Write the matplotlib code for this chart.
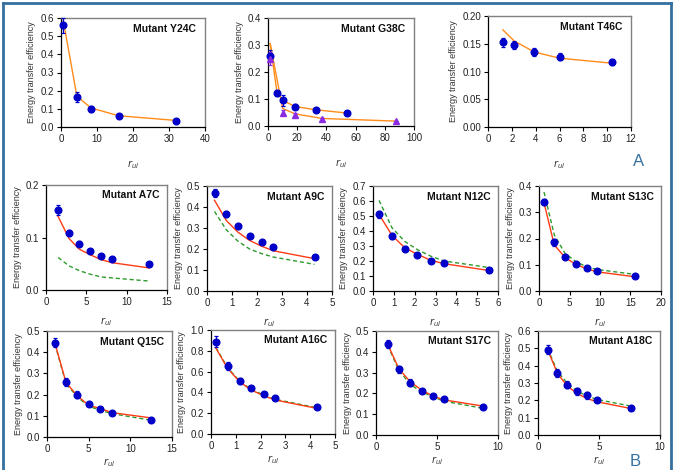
import matplotlib
matplotlib.use('Agg')
import numpy as np
import matplotlib.pyplot as plt
from matplotlib.ticker import FormatStrFormatter
from matplotlib.lines import Line2D

plt.rcParams['font.family'] = ['Liberation Sans', 'DejaVu Sans']

# ---- panel A data ----
y24c_x = [0.6, 4.4, 8.3, 16, 32]
y24c_y = [0.56, 0.165, 0.098, 0.06, 0.035]
y24c_err = [0.04, 0.025, 0.015, 0.004, 0.003]
y24c_fit = [0.59, 0.17, 0.105, 0.062, 0.036]

g38c_x = [1.5, 6, 10, 18.5, 33, 54]
g38c_y = [0.26, 0.123, 0.095, 0.072, 0.058, 0.048]
g38c_err = [0.02, 0.012, 0.02, 0.01, 0.004, 0.004]
g38c_fit = [0.305, 0.13, 0.095, 0.072, 0.06, 0.048]
g38c_x2 = [1.5, 10, 18.5, 37, 88]
g38c_y2 = [0.25, 0.05, 0.04, 0.027, 0.018]
g38c_err2 = [0.025, 0.01, 0.008, 0.003, 0.002]
g38c_fit2 = [0.305, 0.065, 0.045, 0.028, 0.018]

t46c_x = [1.25, 2.2, 3.9, 6.0, 10.4]
t46c_y = [0.153, 0.148, 0.135, 0.127, 0.117]
t46c_err = [0.008, 0.007, 0.007, 0.006, 0.005]
t46c_fit = [0.175, 0.155, 0.135, 0.124, 0.115]

# ---- panel B data ----
a7c_x = [1.5, 2.86, 4.1, 5.5, 6.8, 8.2, 12.8]
a7c_y = [0.152, 0.109, 0.088, 0.074, 0.065, 0.060, 0.049]
a7c_err = [0.01, 0.006, 0.005, 0.002, 0.002, 0.002, 0.002]
a7c_fit = [0.140, 0.098, 0.078, 0.067, 0.058, 0.052, 0.042]
a7c_alt = [0.062, 0.046, 0.037, 0.030, 0.025, 0.023, 0.017]

a9c_x = [0.3, 0.77, 1.23, 1.7, 2.19, 2.64, 4.3]
a9c_y = [0.467, 0.368, 0.308, 0.263, 0.235, 0.211, 0.163]
a9c_err = [0.02, 0.015, 0.012, 0.005, 0.005, 0.005, 0.004]
a9c_fit = [0.432, 0.336, 0.281, 0.241, 0.213, 0.192, 0.154]
a9c_alt = [0.379, 0.292, 0.238, 0.200, 0.178, 0.162, 0.127]

n12c_x = [0.29, 0.91, 1.52, 2.13, 2.79, 3.42, 5.59]
n12c_y = [0.511, 0.367, 0.282, 0.242, 0.200, 0.184, 0.142]
n12c_err = [0.025, 0.018, 0.015, 0.008, 0.006, 0.006, 0.005]
n12c_fit = [0.511, 0.371, 0.289, 0.244, 0.204, 0.182, 0.136]
n12c_alt = [0.604, 0.422, 0.331, 0.276, 0.231, 0.200, 0.156]

s13c_x = [0.82, 2.5, 4.25, 6.05, 7.8, 9.5, 15.8]
s13c_y = [0.338, 0.185, 0.130, 0.104, 0.086, 0.076, 0.056]
s13c_err = [0.012, 0.012, 0.004, 0.004, 0.003, 0.003, 0.002]
s13c_fit = [0.336, 0.176, 0.128, 0.101, 0.085, 0.073, 0.054]
s13c_alt = [0.377, 0.214, 0.144, 0.112, 0.092, 0.082, 0.063]

q15c_x = [0.96, 2.28, 3.64, 5.0, 6.4, 7.8, 12.5]
q15c_y = [0.445, 0.260, 0.200, 0.155, 0.134, 0.115, 0.082]
q15c_err = [0.02, 0.02, 0.018, 0.006, 0.005, 0.004, 0.003]
q15c_fit = [0.442, 0.257, 0.194, 0.150, 0.134, 0.115, 0.090]
q15c_alt = [0.437, 0.252, 0.189, 0.145, 0.126, 0.110, 0.079]

a16c_x = [0.2, 0.67, 1.15, 1.62, 2.12, 2.59, 4.26]
a16c_y = [0.888, 0.654, 0.513, 0.439, 0.385, 0.343, 0.256]
a16c_err = [0.05, 0.035, 0.03, 0.01, 0.01, 0.008, 0.008]
a16c_fit = [0.824, 0.631, 0.503, 0.423, 0.369, 0.327, 0.247]
a16c_alt = [0.830, 0.637, 0.509, 0.429, 0.375, 0.333, 0.253]

s17c_x = [0.96, 1.87, 2.8, 3.74, 4.64, 5.55, 8.79]
s17c_y = [0.436, 0.315, 0.252, 0.211, 0.187, 0.173, 0.136]
s17c_err = [0.02, 0.015, 0.015, 0.006, 0.005, 0.005, 0.004]
s17c_fit = [0.436, 0.319, 0.256, 0.216, 0.188, 0.169, 0.139]
s17c_alt = [0.431, 0.312, 0.243, 0.208, 0.184, 0.163, 0.128]

a18c_x = [0.79, 1.59, 2.41, 3.2, 4.0, 4.82, 7.6]
a18c_y = [0.493, 0.358, 0.291, 0.253, 0.230, 0.200, 0.153]
a18c_err = [0.025, 0.022, 0.018, 0.02, 0.02, 0.006, 0.005]
a18c_fit = [0.493, 0.355, 0.282, 0.240, 0.211, 0.192, 0.153]
a18c_alt = [0.498, 0.368, 0.297, 0.253, 0.226, 0.205, 0.167]

W, H = 677, 470
fig = plt.figure(figsize=(W / 100, H / 100), dpi=100)

BLUE = '#0000C8'
PURPLE = '#8A2BE2'
ORANGE = '#FF8C1A'
RED = '#FF3B14'
GREEN = '#2E9A2E'
FRAME = '#3470A0'


def make_axes(l, t, r, b):
    return fig.add_axes([l / W, 1 - b / H, (r - l) / W, (b - t) / H])


def style(ax, title, xlim, xticks, ylim, yticks, yfmt, xpad):
    ax.set_xlim(*xlim)
    ax.set_ylim(*ylim)
    ax.set_xticks(xticks)
    ax.set_yticks(yticks)
    ax.yaxis.set_major_formatter(FormatStrFormatter(yfmt))
    ax.tick_params(direction='out', length=3, width=0.8, labelsize=7,
                   labelcolor='#222222', pad=2)
    for s in ['top', 'right']:
        ax.spines[s].set_color('#808080')
        ax.spines[s].set_linewidth(1.0)
    for s in ['left', 'bottom']:
        ax.spines[s].set_color('black')
        ax.spines[s].set_linewidth(0.9)
    ax.text(0.94, 0.9, title, transform=ax.transAxes, ha='right', va='center',
            fontsize=7.5, fontweight='bold', color='#111111')
    ax.set_ylabel('Energy transfer efficiency', fontsize=6.5, color='#333333',
                  labelpad=3)
    ax.set_xlabel(r'$r_{ul}$', fontsize=7, color='#333333', labelpad=xpad)


def points(ax, x, y, err, color=BLUE, marker='o', ms=4.8):
    ax.errorbar(x, y, yerr=err, fmt=marker, color=color, ms=ms, capsize=1.5,
                elinewidth=0.9, capthick=0.9, zorder=4, clip_on=False)


# ---- panel A ----
ax = make_axes(61, 18, 205, 127)
ax.plot(y24c_x, y24c_fit, color=ORANGE, lw=1.0)
points(ax, y24c_x, y24c_y, y24c_err)
style(ax, 'Mutant Y24C', (0, 40), [0, 10, 20, 30, 40], (0, 0.6),
      np.arange(0, 0.61, 0.1), '%.1f', 10)

ax = make_axes(268, 18, 414, 126)
ax.plot(g38c_x, g38c_fit, color=ORANGE, lw=1.0)
ax.plot(g38c_x2, g38c_fit2, color=ORANGE, lw=1.0)
points(ax, g38c_x, g38c_y, g38c_err)
points(ax, g38c_x2, g38c_y2, g38c_err2, color=PURPLE, marker='^', ms=4)
style(ax, 'Mutant G38C', (0, 100), [0, 20, 40, 60, 80, 100], (0, 0.4),
      np.arange(0, 0.41, 0.1), '%.1f', 10)

ax = make_axes(488, 16, 631, 127)
ax.plot(t46c_x, t46c_fit, color=ORANGE, lw=1.0)
points(ax, t46c_x, t46c_y, t46c_err)
style(ax, 'Mutant T46C', (0, 12), [0, 2, 4, 6, 8, 10, 12], (0, 0.2),
      np.arange(0, 0.201, 0.05), '%.2f', 10)

# ---- panel B ----
panels_b = [
    ((46, 185, 167, 290), 'Mutant A7C', a7c_x, a7c_y, a7c_err, a7c_fit, a7c_alt,
     (0, 15), [0, 5, 10, 15], (0, 0.2), [0, 0.1, 0.2], 6),
    ((207, 186, 332, 291), 'Mutant A9C', a9c_x, a9c_y, a9c_err, a9c_fit, a9c_alt,
     (0, 5), [0, 1, 2, 3, 4, 5], (0, 0.5), np.arange(0, 0.51, 0.1), 6),
    ((373, 186, 498, 291), 'Mutant N12C', n12c_x, n12c_y, n12c_err, n12c_fit, n12c_alt,
     (0, 6), [0, 1, 2, 3, 4, 5, 6], (0, 0.7), np.arange(0, 0.71, 0.1), 6),
    ((539, 186, 661, 291), 'Mutant S13C', s13c_x, s13c_y, s13c_err, s13c_fit, s13c_alt,
     (0, 20), [0, 5, 10, 15, 20], (0, 0.4), np.arange(0, 0.41, 0.1), 6),
    ((47, 331, 172, 437), 'Mutant Q15C', q15c_x, q15c_y, q15c_err, q15c_fit, q15c_alt,
     (0, 15), [0, 5, 10, 15], (0, 0.5), np.arange(0, 0.51, 0.1), 1.5),
    ((211, 330, 335, 434), 'Mutant A16C', a16c_x, a16c_y, a16c_err, a16c_fit, a16c_alt,
     (0, 5), [0, 1, 2, 3, 4, 5], (0, 1.0), np.arange(0, 1.01, 0.2), 1.5),
    ((376, 331, 498, 435), 'Mutant S17C', s17c_x, s17c_y, s17c_err, s17c_fit, s17c_alt,
     (0, 10), [0, 5, 10], (0, 0.5), np.arange(0, 0.51, 0.1), 1.5),
    ((538, 331, 660, 435), 'Mutant A18C', a18c_x, a18c_y, a18c_err, a18c_fit, a18c_alt,
     (0, 10), [0, 5, 10], (0, 0.6), np.arange(0, 0.61, 0.1), 1.5),
]

for rect, title, x, y, err, fit, alt, xlim, xt, ylim, yt, xpad in panels_b:
    ax = make_axes(*rect)
    ax.plot(x, alt, color=GREEN, lw=1.0, ls=(0, (3, 2)))
    ax.plot(x, fit, color=RED, lw=1.0)
    points(ax, x, y, err)
    style(ax, title, xlim, xt, ylim, yt, '%.1f', xpad)

# ---- blue frame and panel letters ----
fig.add_artist(Line2D([3 / W, 3 / W], [0, 1 - 3 / H], color=FRAME, lw=2,
                      transform=fig.transFigure))
fig.add_artist(Line2D([3 / W, 671 / W], [1 - 3 / H, 1 - 3 / H], color=FRAME, lw=2,
                      transform=fig.transFigure))
fig.add_artist(Line2D([671 / W, 671 / W], [0, 1 - 3 / H], color=FRAME, lw=2,
                      transform=fig.transFigure))
fig.text(639 / W, 1 - 161 / H, 'A', fontsize=12, color=FRAME, ha='center', va='center')
fig.text(635 / W, 1 - 462 / H, 'B', fontsize=12, color=FRAME, ha='center', va='center')

fig.savefig('out.png', dpi=100)
